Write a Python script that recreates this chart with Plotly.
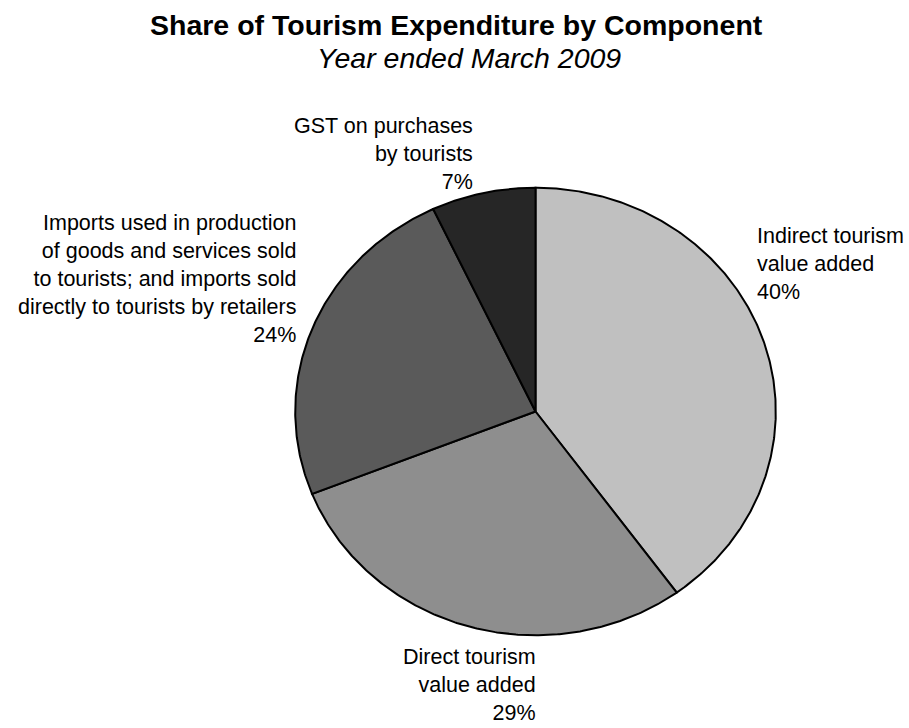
import numpy as np
import plotly.graph_objects as go

# Components of tourism expenditure, clockwise from 12 o'clock
components = [
    "Indirect tourism<br>value added",
    "Direct tourism<br>value added",
    "Imports used in production<br>of goods and services sold<br>to tourists; and imports sold<br>directly to tourists by retailers",
    "GST on purchases<br>by tourists",
]
shares = [40, 29, 24, 7]
fill_colors = ["#c0c0c0", "#8e8e8e", "#5a5a5a", "#262626"]

title_text = "Share of Tourism Expenditure by Component"
subtitle_text = "Year ended March 2009"

FONT = "Liberation Sans, Arial, sans-serif"
W, H = 909, 728
CX, CY = 535.5, 411.5      # pie centre in page pixels
RX, RY = 240.0, 223.5      # horizontal / vertical radii in pixels
PAD = 1.03                 # axis range padding so the outline is not clipped

margin_l = CX - RX * PAD
margin_r = W - (CX + RX * PAD)
margin_t = CY - RY * PAD
margin_b = H - (CY + RY * PAD)
plot_w = W - margin_l - margin_r
plot_h = H - margin_t - margin_b


def to_paper(x_px, y_px):
    """Convert a page pixel position to paper coordinates."""
    return (x_px - margin_l) / plot_w, (H - margin_b - y_px) / plot_h


fig = go.Figure()

# Slices as filled sectors on unit axes, angles measured clockwise from top
total = float(sum(shares))
start = 0.0
for name, val, col in zip(components, shares, fill_colors):
    end = start + val / total
    n = max(int(val * 8), 12)
    theta = 2 * np.pi * np.linspace(start, end, n)
    xs = np.concatenate([[0.0], np.sin(theta), [0.0]])
    ys = np.concatenate([[0.0], np.cos(theta), [0.0]])
    fig.add_trace(go.Scatter(
        x=xs, y=ys, mode="lines", fill="toself", fillcolor=col,
        line=dict(color="black", width=2), hoverinfo="text",
        text=f"{name.replace('<br>', ' ')}: {val}%", showlegend=False,
    ))
    start = end

# Slice labels: (x px, y px of the block's middle, x anchor)
label_pos = [
    (755, 264, "left"),
    (538, 685, "right"),
    (298, 279, "right"),
    (475, 154, "right"),
]
for name, val, (lx, ly, anchor) in zip(components, shares, label_pos):
    x, y = to_paper(lx, ly)
    fig.add_annotation(
        x=x, y=y, xref="paper", yref="paper", xanchor=anchor, yanchor="middle",
        align=anchor, showarrow=False,
        text=f"{name}<br>{val}%",
        font=dict(family=FONT, size=21.5, color="black"),
    )

# Title and subtitle
tx, ty = to_paper(457, 25)
fig.add_annotation(
    x=tx, y=ty, xref="paper", yref="paper", xanchor="center", yanchor="middle",
    showarrow=False, text=f"<b>{title_text}</b>",
    font=dict(family=FONT, size=28.5, color="black"),
)
sx, sy = to_paper(469, 58)
fig.add_annotation(
    x=sx, y=sy, xref="paper", yref="paper", xanchor="center", yanchor="middle",
    showarrow=False, text=f"<i>{subtitle_text}</i>",
    font=dict(family=FONT, size=28.5, color="black"),
)

axis_style = dict(range=[-PAD, PAD], visible=False, showgrid=False,
                  zeroline=False, fixedrange=True)
fig.update_layout(
    width=W, height=H,
    margin=dict(l=margin_l, r=margin_r, t=margin_t, b=margin_b, pad=0),
    xaxis=axis_style, yaxis=axis_style,
    paper_bgcolor="white", plot_bgcolor="white",
    showlegend=False,
)

fig.write_html("out.html")
